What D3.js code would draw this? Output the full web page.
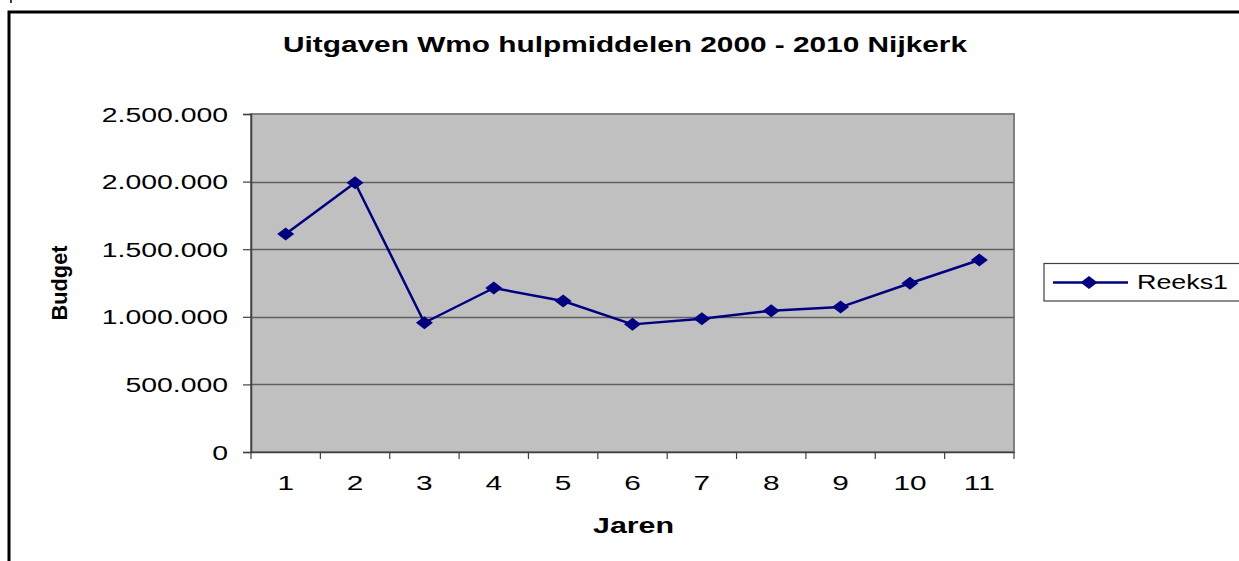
<!DOCTYPE html>
<html>
<head>
<meta charset="utf-8">
<script src="https://cdn.jsdelivr.net/npm/d3@7"></script>
<style>
  html, body { margin: 0; padding: 0; background: #fff; }
  svg { display: block; font-family: Arial, "Liberation Sans", sans-serif; }
</style>
</head>
<body>
<svg id="chart" width="1239" height="561"></svg>
<script>
// ---- data ----
const categories = ["1", "2", "3", "4", "5", "6", "7", "8", "9", "10", "11"];
const seriesName = "Reeks1";
const values = [1612000, 1992000, 956000, 1213000, 1117000, 944000, 986000, 1045000, 1072000, 1248000, 1420000];
const yTicks = [0, 500000, 1000000, 1500000, 2000000, 2500000];
const titleText = "Uitgaven Wmo hulpmiddelen 2000 - 2010 Nijkerk";
const xTitle = "Jaren";
const yTitle = "Budget";

// ---- layout ----
const W = 1239, H = 561;
const plot = { left: 251, right: 1014, top: 114, bottom: 452 };
const svg = d3.select("#chart");

const nl = d3.formatLocale({ decimal: ",", thousands: ".", grouping: [3], currency: ["€", ""] });
const fmt = nl.format(",d");

const x = d3.scaleBand().domain(categories).range([plot.left, plot.right]).paddingInner(0).paddingOuter(0);
const y = d3.scaleLinear().domain([0, 2500000]).range([plot.bottom, plot.top]);

// outer frame
svg.append("rect").attr("x", 9).attr("y", 12).attr("width", W + 20).attr("height", H + 20)
  .attr("fill", "#fff").attr("stroke", "#000").attr("stroke-width", 3);
svg.append("line").attr("x1", 11).attr("x2", 11).attr("y1", 0).attr("y2", 3)
  .attr("stroke", "#000").attr("stroke-width", 1.5);

// plot area
svg.append("rect").attr("x", plot.left).attr("y", plot.top)
  .attr("width", plot.right - plot.left).attr("height", plot.bottom - plot.top)
  .attr("fill", "#C0C0C0").attr("stroke", "#808080").attr("stroke-width", 2);

// gridlines
svg.append("g").selectAll("line").data(yTicks.filter(d => d > 0 && d < 2500000)).join("line")
  .attr("x1", plot.left).attr("x2", plot.right)
  .attr("y1", d => Math.round(y(d)) + 0.5).attr("y2", d => Math.round(y(d)) + 0.5)
  .attr("stroke", "#5f5f5f").attr("stroke-width", 1.5);

// y axis
const yAxis = d3.axisLeft(y).tickValues(yTicks).tickFormat(fmt).tickSize(8).tickPadding(0);
const gy = svg.append("g").attr("transform", `translate(${plot.left},0)`).call(yAxis);
gy.select(".domain").attr("stroke", "#404040").attr("stroke-width", 1.5);
gy.selectAll(".tick line").attr("stroke", "#404040").attr("stroke-width", 1.2);
gy.selectAll(".tick text").each(function () {
  const t = d3.select(this);
  t.attr("x", null).attr("dy", null)
    .attr("transform", "translate(-23,7) scale(1.42,1)")
    .attr("font-size", 20).attr("fill", "#000").attr("text-anchor", "end")
    .attr("font-family", 'Arial, "Liberation Sans", sans-serif');
});

// x axis
const xAxis = d3.axisBottom(x).tickSize(0).tickPadding(0);
const gx = svg.append("g").attr("transform", `translate(0,${plot.bottom})`).call(xAxis);
gx.select(".domain").attr("stroke", "#404040").attr("stroke-width", 1.5);
gx.selectAll(".tick text").each(function () {
  d3.select(this).attr("y", null).attr("dy", null)
    .attr("transform", "translate(0,38) scale(1.42,1)")
    .attr("font-size", 21).attr("fill", "#000").attr("text-anchor", "middle")
    .attr("font-family", 'Arial, "Liberation Sans", sans-serif');
});
// category boundary ticks
const bounds = categories.map(c => x(c)).concat([plot.right]);
svg.append("g").selectAll("line").data(bounds).join("line")
  .attr("x1", d => d).attr("x2", d => d)
  .attr("y1", plot.bottom).attr("y2", plot.bottom + 7)
  .attr("stroke", "#404040").attr("stroke-width", 1.2);

// series line
const cx = (d, i) => x(categories[i]) + x.bandwidth() / 2;
const line = d3.line().x((d, i) => cx(d, i)).y(d => y(d));
svg.append("path").datum(values).attr("d", line)
  .attr("fill", "none").attr("stroke", "#000080").attr("stroke-width", 2.5)
  .attr("stroke-linejoin", "round");

const diamond = "M-8.5,0 L0,-6.5 L8.5,0 L0,6.5 Z";
svg.append("g").selectAll("path").data(values).join("path")
  .attr("d", diamond)
  .attr("transform", (d, i) => `translate(${cx(d, i)},${y(d)})`)
  .attr("fill", "#000080");

// title
svg.append("text").attr("x", 283).attr("y", 52)
  .attr("font-size", 22).attr("font-weight", "bold")
  .attr("textLength", 684).attr("lengthAdjust", "spacingAndGlyphs")
  .text(titleText);

// axis titles
svg.append("text").attr("x", 593).attr("y", 533)
  .attr("font-size", 22).attr("font-weight", "bold")
  .attr("textLength", 81).attr("lengthAdjust", "spacingAndGlyphs")
  .text(xTitle);

svg.append("text").attr("transform", "translate(67,283) rotate(-90)")
  .attr("text-anchor", "middle")
  .attr("font-size", 22).attr("font-weight", "bold")
  .attr("textLength", 75).attr("lengthAdjust", "spacingAndGlyphs")
  .text(yTitle);

// legend
const lg = svg.append("g");
lg.append("rect").attr("x", 1044).attr("y", 263.5).attr("width", 196).attr("height", 37.5)
  .attr("fill", "#fff").attr("stroke", "#404040").attr("stroke-width", 1.2);
lg.append("line").attr("x1", 1053).attr("x2", 1128).attr("y1", 282.5).attr("y2", 282.5)
  .attr("stroke", "#000080").attr("stroke-width", 2.5);
lg.append("path").attr("d", diamond).attr("transform", "translate(1089,282.5)").attr("fill", "#000080");
lg.append("text").attr("x", 1137).attr("y", 289)
  .attr("font-size", 21)
  .attr("textLength", 91).attr("lengthAdjust", "spacingAndGlyphs")
  .text(seriesName);
</script>
</body>
</html>
